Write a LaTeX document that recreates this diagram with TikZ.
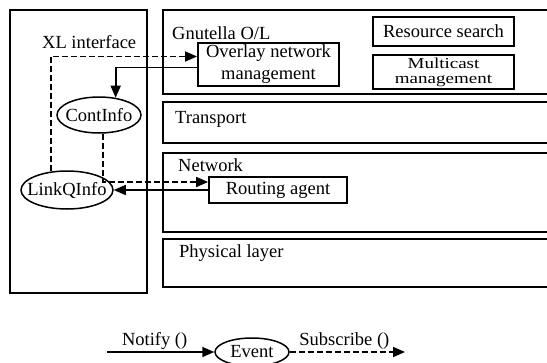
\documentclass[tikz,border=0pt]{standalone}
\usepackage{fontspec}
\setmainfont{Liberation Serif}
\usetikzlibrary{arrows.meta,shapes.geometric}
\newcommand{\ovtext}[1]{\makebox[0pt]{#1}}
\newcommand{\squish}[1]{\scalebox{1}[0.8]{#1}}

\begin{document}
\begin{tikzpicture}[x=1pt,y=-1pt,
  font=\fontsize{18.5}{22}\selectfont,
  layer/.style={line width=1.8pt},
  blk/.style={draw,line width=1.8pt,inner sep=0pt,align=center},
  oval/.style={draw,ellipse,line width=1.5pt,inner sep=0pt},
  tip/.style={-{Triangle[length=12pt,width=10pt]},line width=1.7pt},
  dsh/.style={dash pattern=on 6pt off 3pt}]
\useasboundingbox (0,0) rectangle (547,362);
\clip (0,0) rectangle (547,362);

% XL box and the layers
\draw[layer] (10,10) rectangle (147,293);
\draw[layer] (163,10) rectangle (560,94);
\draw[layer] (163,102) rectangle (560,143);
\draw[layer] (163,153) rectangle (560,232);
\draw[layer] (163,239) rectangle (560,287);

\node[anchor=west,inner sep=0pt] (xl) at (42,42) {XL interface};
\node[anchor=west,inner sep=0pt] (gn) at (172,33) {Gnutella O/L};
\node[anchor=west,inner sep=0pt] (tr) at (175,119) {Transport};
\node[anchor=west,inner sep=0pt] (nw) at (178,165) {Network};
\node[anchor=west,inner sep=0pt] (ph) at (179,253) {Physical layer};

\node[blk,minimum width=141pt,minimum height=43pt] (ov) at (268.5,64.5) {Overlay network\\management};
\node[blk,minimum width=141pt,minimum height=29pt] (rs) at (443.5,31.5) {Resource search};
\node[blk,minimum width=141pt,minimum height=34pt,font=\fontsize{19}{15}\selectfont] (mc) at (443.5,72) {\squish{Multicast}\\\squish{management}};
\node[blk,minimum width=138pt,minimum height=26pt] (ra) at (278,190) {Routing agent};

\node[oval,minimum width=84pt,minimum height=36pt] (ci) at (99,115) {\ovtext{ContInfo}};
\node[oval,minimum width=92pt,minimum height=38pt] (lq) at (67,190) {\ovtext{LinkQInfo}};

\draw[tip,dsh] (lq.131) |- ([yshift=8pt]ov.west);
\draw[tip] ([yshift=-3pt]ov.west) -| (ci.46);
\draw[tip,dsh] ([xshift=4pt]ci.south) |- ([yshift=8pt]ra.west);
\draw[tip] (ra.west) -- (lq.east);

% legend
\node[oval,minimum width=74pt,minimum height=28pt] (ev) at (252,352) {\ovtext{Event}};
\coordinate (nf) at (107,352);
\coordinate (sb) at (405,352);
\draw[tip] (nf) -- node[above,inner sep=2pt,xshift=-6pt] (nfl) {Notify ()} (ev.west);
\draw[tip,dsh] (ev.east) -- node[above,inner sep=2pt,xshift=-3pt] (sbl) {Subscribe ()} (sb);
\end{tikzpicture}
\end{document}
